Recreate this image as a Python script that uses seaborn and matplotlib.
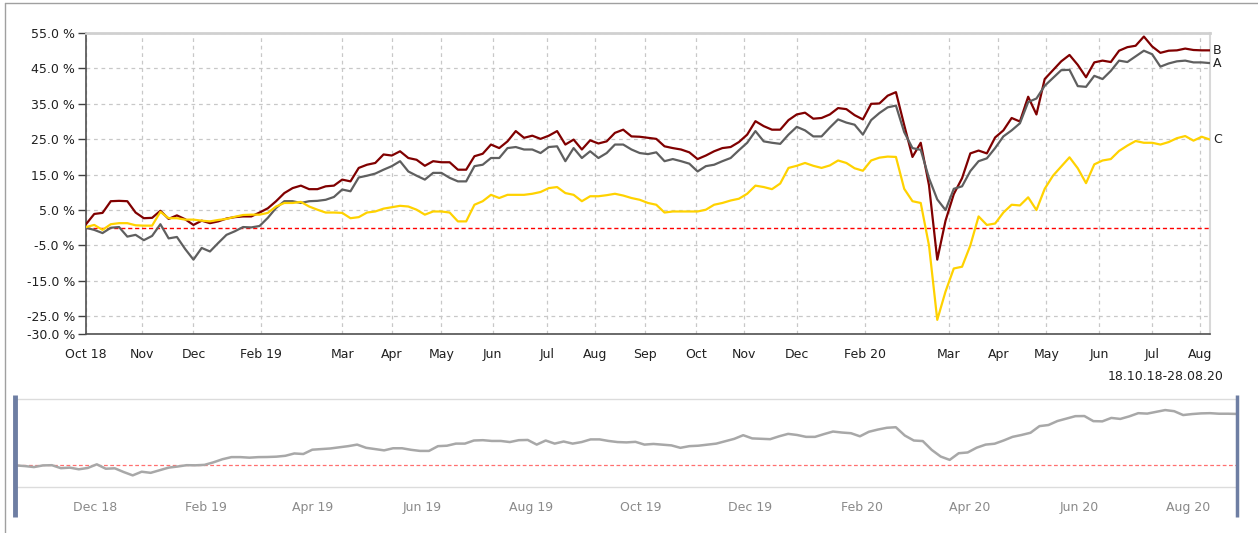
import pandas as pd
import matplotlib.pyplot as plt
from matplotlib.lines import Line2D
import seaborn as sns

# data: performance in %, one reading every 5 days from 18.10.18 to 28.08.20
start_date = "2018-10-18"
end_date = "2020-08-28"
dates = pd.date_range(start_date, periods=137, freq="5D")

series_a = [
    0.0, -0.6, -1.5, 0.0, 0.2, -2.5, -2.0, -3.5, -2.3, 1.0,
    -3.0, -2.6, -6.0, -9.0, -5.7, -6.7, -4.3, -2.0, -1.0, 0.2,
    0.1, 0.5, 2.8, 5.6, 7.5, 7.5, 7.0, 7.5, 7.6, 7.9,
    8.7, 10.8, 10.3, 14.2, 14.7, 15.3, 16.4, 17.4, 18.8, 15.9,
    14.7, 13.6, 15.5, 15.5, 14.1, 13.1, 13.1, 17.4, 17.8, 19.7,
    19.7, 22.5, 22.8, 22.1, 22.1, 21.1, 22.8, 23.0, 18.8, 22.5,
    19.7, 21.6, 19.7, 21.1, 23.5, 23.5, 22.1, 21.1, 20.8, 21.3,
    18.8, 19.4, 18.8, 18.1, 15.9, 17.4, 17.8, 18.8, 19.7, 21.9,
    24.0, 27.3, 24.4, 24.0, 23.7, 26.3, 28.5, 27.5, 25.8, 25.8,
    28.3, 30.6, 29.7, 29.1, 26.3, 30.4, 32.4, 34.0, 34.5, 27.0,
    22.5, 22.0, 14.0, 8.0, 5.0, 11.0, 11.7, 16.0, 18.8, 19.6,
    22.5, 25.8, 27.5, 29.5, 35.5, 36.5, 40.1, 42.3, 44.5, 44.6,
    40.0, 39.8, 42.9, 42.0, 44.3, 47.2, 46.8, 48.4, 50.0, 49.0,
    45.5, 46.4, 47.0, 47.2, 46.7, 46.7, 46.5,
]

series_b = [
    1.0, 3.9, 4.2, 7.5, 7.6, 7.5, 4.3, 2.7, 2.8, 4.8,
    2.5, 3.5, 2.4, 0.8, 2.0, 1.3, 1.8, 2.6, 3.0, 3.2,
    3.2, 4.3, 5.5, 7.5, 9.8, 11.2, 11.9, 10.9, 10.9, 11.7,
    11.9, 13.6, 13.1, 16.9, 17.8, 18.3, 20.7, 20.4, 21.6, 19.7,
    19.2, 17.5, 18.8, 18.5, 18.5, 16.4, 16.4, 20.2, 20.9, 23.5,
    22.5, 24.4, 27.3, 25.4, 26.0, 25.1, 26.0, 27.3, 23.5, 24.9,
    22.1, 24.7, 23.8, 24.4, 26.8, 27.7, 25.8, 25.7, 25.4, 25.1,
    23.0, 22.5, 22.1, 21.3, 19.4, 20.4, 21.6, 22.5, 22.8, 24.2,
    26.3, 30.1, 28.7, 27.7, 27.7, 30.4, 32.0, 32.5, 30.8, 31.0,
    32.0, 33.8, 33.5, 31.8, 30.6, 35.0, 35.1, 37.3, 38.3, 29.0,
    20.0, 24.0, 12.0, -9.0, 2.0, 9.5, 14.0, 21.0, 21.8, 21.0,
    25.5, 27.5, 31.0, 30.0, 37.0, 32.0, 42.0, 44.5, 47.0, 48.8,
    46.0, 42.5, 46.7, 47.2, 46.8, 50.0, 51.0, 51.4, 54.0, 51.2,
    49.4, 50.0, 50.1, 50.6, 50.2, 50.1, 50.1,
]

series_c = [
    0.2, 0.8, -0.6, 1.0, 1.3, 1.3, 0.7, 0.6, 0.6, 4.5,
    2.7, 2.7, 2.3, 2.3, 2.0, 1.8, 2.2, 2.5, 3.1, 3.6,
    3.7, 3.7, 4.2, 6.0, 7.0, 7.0, 7.3, 6.0, 5.1, 4.3,
    4.3, 4.2, 2.7, 3.0, 4.3, 4.6, 5.4, 5.8, 6.2, 6.0,
    5.1, 3.7, 4.6, 4.6, 4.3, 1.8, 1.8, 6.5, 7.5, 9.3,
    8.4, 9.3, 9.3, 9.3, 9.6, 10.1, 11.2, 11.5, 9.8, 9.3,
    7.5, 8.9, 8.9, 9.2, 9.6, 9.1, 8.4, 7.9, 7.0, 6.5,
    4.3, 4.6, 4.6, 4.6, 4.6, 5.1, 6.5, 7.0, 7.7, 8.2,
    9.6, 11.9, 11.5, 10.9, 12.5, 16.9, 17.5, 18.3, 17.5, 16.9,
    17.6, 19.0, 18.3, 16.8, 16.1, 19.0, 19.8, 20.1, 20.0, 11.0,
    7.5, 7.0, -5.0, -26.0, -18.0, -11.5, -11.0, -5.0, 3.2, 0.8,
    1.2, 4.3, 6.5, 6.3, 8.6, 5.0, 11.0, 14.7, 17.3, 19.9,
    16.8, 12.6, 17.9, 19.0, 19.4, 21.7, 23.2, 24.5, 24.0, 24.0,
    23.5, 24.2, 25.3, 25.9, 24.6, 25.7, 24.9,
]

names = ["A", "B", "C"]
colors = {"A": "#5f5f5f", "B": "#800000", "C": "#ffd200"}

y_ticks = [55, 45, 35, 25, 15, 5, -5, -15, -25, -30]
x_tick_dates = [
    "2018-10-18", "2018-11-21", "2018-12-22", "2019-02-01", "2019-03-22",
    "2019-04-21", "2019-05-21", "2019-06-21", "2019-07-24", "2019-08-22",
    "2019-09-21", "2019-10-22", "2019-11-20", "2019-12-22", "2020-02-01",
    "2020-03-23", "2020-04-22", "2020-05-21", "2020-06-22", "2020-07-24",
    "2020-08-22",
]
x_tick_labels = [
    "Oct 18", "Nov", "Dec", "Feb 19", "Mar", "Apr", "May", "Jun", "Jul",
    "Aug", "Sep", "Oct", "Nov", "Dec", "Feb 20", "Mar", "Apr", "May",
    "Jun", "Jul", "Aug",
]
nav_tick_dates = pd.date_range("2018-12-01", "2020-08-01", freq="2MS")

df = pd.DataFrame({
    "date": list(dates) * 3,
    "value": series_a + series_b + series_c,
    "name": [n for n in names for _ in dates],
})

sns.set_style("white")
plt.rcParams["font.family"] = ["DejaVu Sans"]

fig = plt.figure(figsize=(12.58, 5.33), dpi=100)
W, H = 1258, 533

def px_axes(l, t, r, b):
    return fig.add_axes([l / W, 1 - b / H, (r - l) / W, (b - t) / H])

# outer frame (top + left)
fig.add_artist(Line2D([5 / W, 5 / W], [0, 1 - 3 / H], color="#a0a0a0", lw=1))
fig.add_artist(Line2D([5 / W, 1], [1 - 3 / H, 1 - 3 / H], color="#a0a0a0", lw=1))

# ---- main chart
ax = px_axes(86, 33, 1210, 334)
ax.axhline(0, color="#ff0000", lw=1, ls=(0, (3, 2)), zorder=1)
sns.lineplot(data=df, x="date", y="value", hue="name", hue_order=["B", "A", "C"],
             palette=colors, linewidth=1.6, legend=False, ax=ax, zorder=3)

ax.set_xlim(pd.Timestamp(start_date), pd.Timestamp(end_date))
ax.set_ylim(-30, 55)
ax.set_yticks(y_ticks)
ax.set_yticklabels([f"{v:.1f} %" for v in y_ticks])
ax.set_xticks(pd.to_datetime(x_tick_dates))
ax.set_xticklabels(x_tick_labels)
ax.set_xlabel("")
ax.set_ylabel("")
ax.grid(True, color="#c8c8c8", ls=(0, (3, 3)), lw=0.9)
ax.tick_params(axis="y", length=6, width=1, color="#404040", labelsize=9,
               labelcolor="#202020", pad=2, left=True)
ax.tick_params(axis="x", length=0, labelsize=9, labelcolor="#202020", pad=10)
for side in ["left", "bottom"]:
    ax.spines[side].set_color("#505050")
    ax.spines[side].set_linewidth(1.2)
ax.spines["top"].set_color("#d0d0d0")
ax.spines["top"].set_linewidth(2)
ax.spines["right"].set_color("#d8d8d8")
ax.spines["right"].set_linewidth(1.5)

ends = {"B": series_b[-1], "A": series_a[-1], "C": series_c[-1]}
for n, v in ends.items():
    ax.annotate(n, xy=(dates[-1], v), xytext=(2, 0), textcoords="offset points",
                va="center", ha="left", fontsize=9, color="#202020",
                annotation_clip=False)

fig.text(1224 / W, 1 - 377 / H, "18.10.18-28.08.20", ha="right", va="center",
         fontsize=9, color="#202020")

# ---- navigator
nav = px_axes(16, 399, 1237, 487)
nav.axhline(0, color="#ff7070", lw=0.9, ls=(0, (3, 2)), zorder=1)
sns.lineplot(x=dates, y=series_a, color="#a8a8a8", linewidth=1.8, ax=nav, zorder=3)
nav.set_xlim(pd.Timestamp(start_date), pd.Timestamp(end_date))
nav.set_ylim(-19.5, 60)
nav.set_yticks([])
nav.set_xticks(nav_tick_dates)
nav.set_xticklabels(nav_tick_dates.strftime("%b %y"))
nav.set_xlabel("")
nav.set_ylabel("")
nav.tick_params(axis="x", length=3, width=1, color="#909090", labelsize=9,
                labelcolor="#8a8a8a", pad=7)
for side in ["top", "bottom"]:
    nav.spines[side].set_color("#dcdcdc")
    nav.spines[side].set_linewidth(1)
for side in ["left", "right"]:
    nav.spines[side].set_visible(False)

bar_color = "#6e7ea3"
fig.add_artist(Line2D([14.5 / W, 14.5 / W], [1 - 517 / H, 1 - 395 / H],
                      color=bar_color, lw=3.5, solid_capstyle="butt"))
fig.add_artist(Line2D([1236.5 / W, 1236.5 / W], [1 - 517 / H, 1 - 395 / H],
                      color=bar_color, lw=2.5, solid_capstyle="butt"))

fig.savefig("out.png", dpi=100)
